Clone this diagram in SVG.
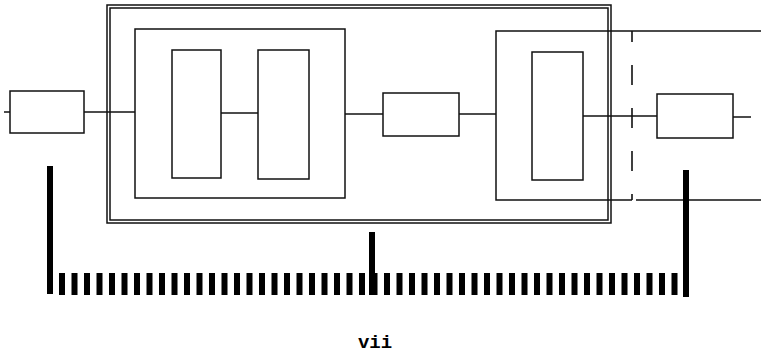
<svg xmlns="http://www.w3.org/2000/svg" width="761" height="358" viewBox="0 0 761 358">
<style>
.b{fill:none;stroke:#111;stroke-width:1.5}
.w{fill:none;stroke:#111;stroke-width:1.5}
.bar{stroke:#000;stroke-width:6}
.dash{stroke:#000;stroke-width:22;stroke-dasharray:6 6.5}
.dv{stroke:#111;stroke-width:1.6;stroke-dasharray:20 23;stroke-dashoffset:9}
.t{font-family:"Liberation Mono","Courier New",monospace;font-weight:bold;font-size:19px;fill:#000}
</style>
<rect width="761" height="358" fill="#fff"/>
<g id="outer-frame">
<rect class="b" x="107" y="5" width="504" height="218" stroke-width="2"/>
<rect class="b" x="110" y="8" width="498" height="212"/>
</g>
<g id="box-left"><rect class="b" x="10" y="91" width="74" height="42"/></g>
<g id="frame-1"><rect class="b" x="135" y="29" width="210" height="169"/></g>
<g id="rect-a"><rect class="b" x="172" y="50" width="49" height="128"/></g>
<g id="rect-b"><rect class="b" x="258" y="50" width="51" height="129"/></g>
<g id="box-middle"><rect class="b" x="383" y="93" width="76" height="43"/></g>
<g id="frame-2">
<path class="b" d="M761 31 H496 V200 H632 M636 200 H761"/>
<line class="dv" x1="632" y1="31" x2="632" y2="200"/>
</g>
<g id="rect-c"><rect class="b" x="532" y="52" width="51" height="128"/></g>
<g id="box-right"><rect class="b" x="657" y="94" width="76" height="44"/></g>
<g id="connectors">
<line class="w" x1="4" y1="112" x2="10" y2="112"/>
<line class="w" x1="84" y1="112" x2="135" y2="112"/>
<line class="w" x1="221" y1="113" x2="258" y2="113"/>
<line class="w" x1="345" y1="114" x2="383" y2="114"/>
<line class="w" x1="459" y1="114" x2="496" y2="114"/>
<line class="w" x1="583" y1="116" x2="657" y2="116"/>
<line class="w" x1="733" y1="117" x2="751" y2="117"/>
</g>
<g id="scale">
<line class="bar" x1="50" y1="166" x2="50" y2="294"/>
<line class="dash" x1="59" y1="284" x2="678" y2="284"/>
<line class="bar" x1="372" y1="232" x2="372" y2="295"/>
<line class="bar" x1="686" y1="170" x2="686" y2="297"/>
</g>
<text class="t" x="375" y="348" text-anchor="middle">vii</text>
</svg>
